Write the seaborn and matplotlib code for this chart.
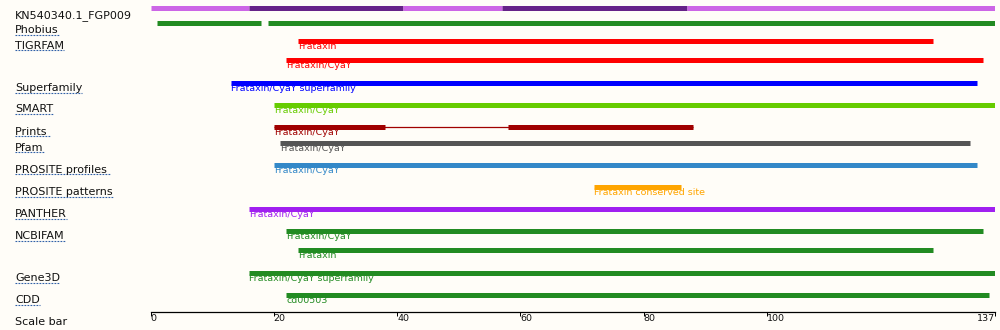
import matplotlib
matplotlib.use("Agg")
import matplotlib.pyplot as plt
import matplotlib.transforms as mtransforms
import pandas as pd
import seaborn as sns

# ---- data -------------------------------------------------------------
seq_length = 137
scale_ticks = [0, 20, 40, 60, 80, 100, 137]

# sequence overview stripe
overview_starts = [0, 16, 41, 57, 87]
overview_ends = [16, 41, 57, 87, 137]
overview_shades = ["light", "dark", "light", "dark", "light"]

# Phobius segments
phobius_starts = [1, 19]
phobius_ends = [18, 137]

# member-database matches
match_db = ["TIGRFAM", "TIGRFAM", "Superfamily", "SMART", "Prints", "Pfam",
            "PROSITE profiles", "PROSITE patterns", "PANTHER", "NCBIFAM",
            "NCBIFAM", "Gene3D", "CDD"]
match_names = ["Frataxin", "Frataxin/CyaY", "Frataxin/CyaY superfamily",
               "Frataxin/CyaY", "Frataxin/CyaY", "Frataxin/CyaY",
               "Frataxin/CyaY", "Frataxin conserved site", "Frataxin/CyaY",
               "Frataxin/CyaY", "Frataxin", "Frataxin/CyaY superfamily",
               "cd00503"]
match_starts = [24, 22, 13, 20, 20, 21, 20, 72, 16, 22, 24, 16, 22]
match_ends = [127, 135, 134, 137, 88, 133, 134, 86, 137, 135, 127, 137, 136]

# Prints fingerprint motifs inside the Prints match
prints_motif_starts = [20, 58]
prints_motif_ends = [38, 88]

row_labels = ["KN540340.1_FGP009", "Phobius", "TIGRFAM", "Superfamily",
              "SMART", "Prints ", "Pfam", "PROSITE profiles ",
              "PROSITE patterns", "PANTHER", "NCBIFAM", "Gene3D", "CDD",
              "Scale bar"]

# ---- layout (pixel rows from the top of the figure) -------------------
overview_y = 7.5
phobius_y = 22.5
match_y = [40.5, 59.5, 82.5, 104.5, 126.5, 142.5, 164.5, 186.5, 208.5,
           230.5, 249.5, 272.5, 294.5]
row_label_y = [18, 33, 48.8, 91, 112.5, 134.7, 150.8, 172.8, 195.3, 217,
               239, 281, 303, 325]
underlined = [False] + [True] * 12 + [False]
axis_y = 312

overview_colors = {"light": "#cc66e6", "dark": "#662288"}
phobius_color = "#228b22"
db_colors = {
    "TIGRFAM": "#ff0000",
    "Superfamily": "#0000ff",
    "SMART": "#66cc00",
    "Prints": "#a00000",
    "Pfam": "#555555",
    "PROSITE profiles": "#3388c8",
    "PROSITE patterns": "#ffa500",
    "PANTHER": "#a020f0",
    "NCBIFAM": "#228b22",
    "Gene3D": "#228b22",
    "CDD": "#228b22",
}
bg = "#fffdf8"

sns.set_theme(style="white")
plt.rcParams["font.family"] = ["DejaVu Sans"]
plt.rcParams["lines.solid_capstyle"] = "butt"

W, H = 1000, 330
fig = plt.figure(figsize=(W / 100, H / 100), dpi=100, facecolor=bg)
x0_px, x1_px = 150.5, 995
ax = fig.add_axes([x0_px / W, (H - axis_y) / H, (x1_px - x0_px) / W, axis_y / H])
ax.set_facecolor(bg)

# ---- build the segment table ----------------------------------------
thick, thin = [], []
palette = {}


def add(rows, seg, start, end, y, color):
    palette[seg] = color
    rows.append({"seg": seg, "pos": start, "y": y})
    rows.append({"seg": seg, "pos": end, "y": y})


for i, (s, e, shade) in enumerate(zip(overview_starts, overview_ends, overview_shades)):
    add(thick, f"ov{i}", s, e, overview_y, overview_colors[shade])
for i, (s, e) in enumerate(zip(phobius_starts, phobius_ends)):
    add(thick, f"ph{i}", s, e, phobius_y, phobius_color)
for i, (db, s, e) in enumerate(zip(match_db, match_starts, match_ends)):
    if db == "Prints":
        add(thin, f"m{i}", s, e, match_y[i], db_colors[db])
        for j, (ms, me) in enumerate(zip(prints_motif_starts, prints_motif_ends)):
            add(thick, f"m{i}_{j}", ms, me, match_y[i], db_colors[db])
    else:
        add(thick, f"m{i}", s, e, match_y[i], db_colors[db])

thick_df = pd.DataFrame(thick)
thin_df = pd.DataFrame(thin)

sns.lineplot(data=thin_df, x="pos", y="y", hue="seg", units="seg",
             estimator=None, sort=False, legend=False, linewidth=0.9,
             palette={k: palette[k] for k in thin_df["seg"].unique()},
             solid_capstyle="butt", ax=ax)
sns.lineplot(data=thick_df, x="pos", y="y", hue="seg", units="seg",
             estimator=None, sort=False, legend=False, linewidth=3.6,
             palette={k: palette[k] for k in thick_df["seg"].unique()},
             solid_capstyle="butt", ax=ax)

# match descriptions under each bar
for db, name, s, y in zip(match_db, match_names, match_starts, match_y):
    ax.text(s, y + 8.2, name, color=db_colors[db], fontsize=6.8,
            ha="left", va="baseline", clip_on=False)

ax.set_xlim(0, seq_length)
ax.set_ylim(axis_y, 0)
ax.set_xlabel("")
ax.set_ylabel("")
ax.set_yticks([])

# scale bar along the bottom spine
for side in ("left", "top", "right"):
    ax.spines[side].set_visible(False)
ax.spines["bottom"].set_color("black")
ax.spines["bottom"].set_linewidth(0.9)
ax.set_xticks(scale_ticks)
ax.set_xticklabels([str(t) for t in scale_ticks])
ax.tick_params(axis="x", direction="out", length=2.9, width=0.72,
               color="black", pad=-1.2, labelsize=6.8, labelcolor="#111111",
               bottom=True)
labels = ax.get_xticklabels()
for lab in labels:
    lab.set_ha("left")
labels[-1].set_ha("right")

# row labels on the left with dotted underlines
trans = mtransforms.blended_transform_factory(fig.transFigure, ax.transData)
texts = []
for lab, y in zip(row_labels, row_label_y):
    t = ax.text(15 / W, y, lab, transform=trans, fontsize=8, color="#111111",
                ha="left", va="baseline", clip_on=False)
    texts.append(t)

fig.canvas.draw()
renderer = fig.canvas.get_renderer()
for t, y, ul in zip(texts, row_label_y, underlined):
    if not ul:
        continue
    bb = t.get_window_extent(renderer)
    ax.plot([bb.x0 / W, bb.x1 / W], [y + 1.5, y + 1.5], transform=trans,
            color="#3060a8", linewidth=0.8, linestyle=(0, (1.6, 1.1)),
            clip_on=False, solid_capstyle="butt")

fig.savefig("out.png", dpi=100, facecolor=bg)
